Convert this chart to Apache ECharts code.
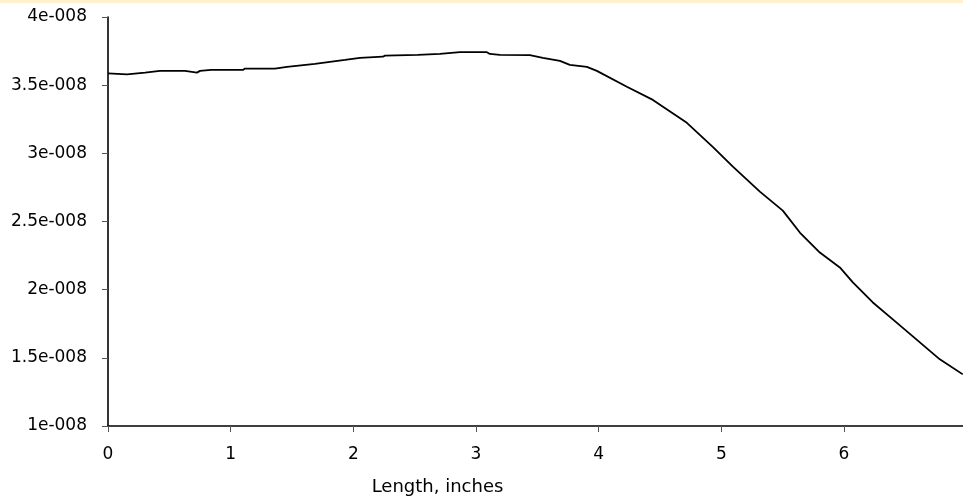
<!DOCTYPE html>
<html>
<head>
<meta charset="utf-8">
<script src="https://cdn.jsdelivr.net/npm/echarts@6/dist/echarts.min.js"></script>
<style>
  html, body { margin: 0; padding: 0; background: #fff; }
  #strip { position: absolute; left: 0; top: 0; width: 963px; height: 3px; background: #fff2cc; z-index: 2; }
  #chart { width: 963px; height: 497px; }
</style>
</head>
<body>
<div id="strip"></div>
<div id="chart"></div>
<script>
// length in inches
const lengthIn = [0.000, 0.155, 0.302, 0.424, 0.628, 0.644, 0.725, 0.750, 0.840, 1.100, 1.117, 1.361,
  1.459, 1.687, 1.809, 1.932, 2.054, 2.241, 2.258, 2.526, 2.706, 2.869, 3.089, 3.113, 3.195, 3.439,
  3.545, 3.684, 3.765, 3.904, 3.985, 4.230, 4.442, 4.719, 4.930, 5.094, 5.314, 5.501, 5.640, 5.803,
  5.966, 6.072, 6.235, 6.398, 6.561, 6.781, 6.968];
// value, units of 1e-8
const value = [3.586, 3.579, 3.592, 3.605, 3.605, 3.592, 3.592, 3.605, 3.612, 3.612, 3.622, 3.622,
  3.634, 3.656, 3.671, 3.685, 3.700, 3.709, 3.717, 3.722, 3.729, 3.742, 3.742, 3.729, 3.722, 3.720,
  3.700, 3.678, 3.649, 3.634, 3.605, 3.488, 3.392, 3.224, 3.048, 2.902, 2.719, 2.580, 2.419, 2.272,
  2.163, 2.053, 1.906, 1.782, 1.657, 1.489, 1.379];

(function () {
  const chart = echarts.init(document.getElementById('chart'));
  const font = 'DejaVu Sans';
  const fmtE = v => +(v / 1e-8).toFixed(2) + 'e-008';
  chart.setOption({
    animation: false,
    grid: { left: 108, right: 0, top: 17, bottom: 71, containLabel: false, outerBoundsMode: 'none' },
    xAxis: {
      type: 'value', min: 0, max: 6.97, interval: 1,
      name: 'Length, inches', nameLocation: 'middle', nameGap: 52,
      nameTextStyle: { color: '#000', fontFamily: font, fontSize: 18, padding: [0, 196, 0, 0] },
      axisLine: { lineStyle: { color: '#000', width: 1.6 } },
      axisTick: { length: 6, lineStyle: { color: '#555' } },
      axisLabel: { color: '#000', fontFamily: font, fontSize: 17, margin: 20, showMaxLabel: false },
      splitLine: { show: false },
    },
    yAxis: {
      type: 'value', min: 1e-8, max: 4e-8, interval: 0.5e-8,
      axisLine: { show: true, lineStyle: { color: '#000', width: 1.6 } },
      axisTick: { show: true, length: 6, lineStyle: { color: '#555' } },
      axisLabel: { color: '#000', fontFamily: font, fontSize: 17, margin: 21, formatter: fmtE },
      splitLine: { show: false },
    },
    series: [{
      type: 'line',
      data: lengthIn.map((x, i) => [x, value[i] * 1e-8]),
      showSymbol: false,
      lineStyle: { color: '#000', width: 1.8 },
    }],
  });
})();
</script>
</body>
</html>
